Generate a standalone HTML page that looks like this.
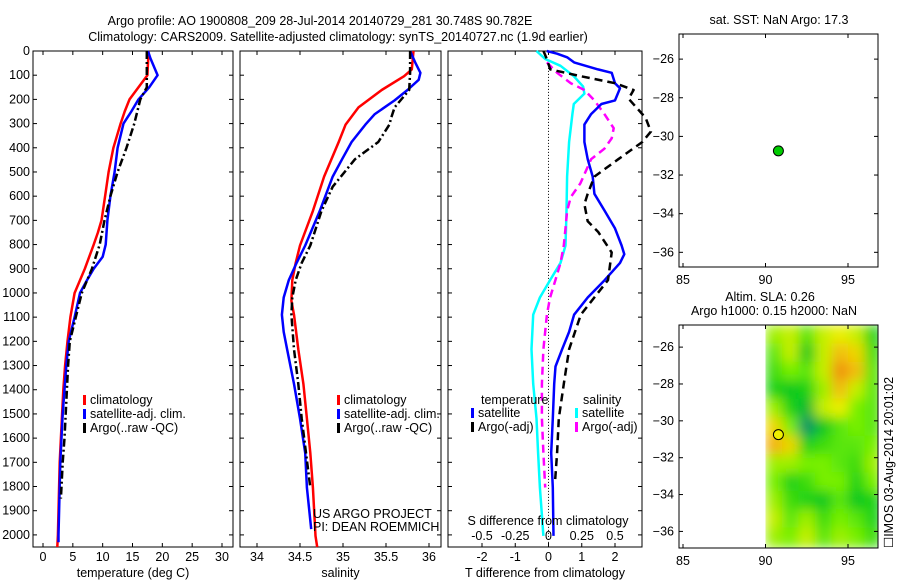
<!DOCTYPE html>
<html><head><meta charset="utf-8"><style>
body{margin:0;background:#fff;}
svg{display:block;font-family:"Liberation Sans",sans-serif;}
text{font-size:12.5px;fill:#000;}
</style></head><body>
<svg id="fig" width="900" height="580" viewBox="0 0 900 580" xmlns="http://www.w3.org/2000/svg">
<defs>
<filter id="blur" x="0" y="0" width="100%" height="100%"><feGaussianBlur stdDeviation="6"/></filter>
<clipPath id="mapclip"><rect x="679" y="325" width="199" height="223"/></clipPath>
</defs>
<text x="320" y="25" text-anchor="middle">Argo profile: AO 1900808_209 28-Jul-2014 20140729_281 30.748S 90.782E</text>
<text x="338" y="41" text-anchor="middle">Climatology: CARS2009. Satellite-adjusted climatology: synTS_20140727.nc (1.9d earlier)</text>
<g id="g"></g>
</svg>
<script>
// ---------- data ----------
const tDepth   = [0,100,150,200,250,300,400,500,600,700,750,800,900,1000,1100,1200,1300,1400,1500,1600,1700,1800,1900,2000,2050];
const tClim    = [17.7,17.5,16,14.5,13.7,13,11.8,11,10.4,9.8,9.2,8.5,7,5.3,4.6,4.1,3.7,3.4,3.2,3.0,2.8,2.7,2.6,2.5,2.4];
const tSatDepth= [0,30,100,150,200,250,300,400,500,600,700,800,850,900,950,1000,1100,1200,1300,1400,1500,1600,1700,1800,1900,2000,2030];
const tSat     = [17.6,18,19.2,17.8,16,14.8,13.5,12.5,12,11.3,10.8,10.5,10,8.5,7.3,6.2,5.3,4.3,3.9,3.6,3.3,3.1,2.9,2.8,2.7,2.6,2.6];
const tArgoDepth=[0,100,150,200,300,400,500,600,700,800,900,1000,1100,1200,1300,1400,1500,1600,1700,1800,1850];
const tArgo    = [17.4,17.4,17.4,16.3,15.3,14,12.5,11.3,10.3,9.5,8.2,6.5,5.5,4.5,4.2,4.0,3.8,3.6,3.3,3.1,3.0];

const sClimDepth=[0,76,104,161,233,304,376,519,661,804,876,947,1033,1090,1233,1376,1519,1661,1804,2004,2050];
const sClim     =[35.82,35.8,35.71,35.45,35.18,35.03,34.95,34.78,34.65,34.5,34.45,34.41,34.4,34.43,34.48,34.54,34.58,34.62,34.65,34.68,34.7];
const sSatDepth =[0,47,90,119,161,204,261,304,376,447,519,661,804,876,947,1019,1090,1161,1233,1376,1519,1661,1804,1976];
const sSat      =[35.78,35.84,35.9,35.88,35.75,35.6,35.37,35.26,35.1,34.99,34.88,34.73,34.56,34.46,34.37,34.31,34.29,34.31,34.35,34.43,34.5,34.56,34.58,34.63];
const sArgoDepth=[0,90,161,233,276,304,376,447,561,661,804,876,947,1019,1090,1233,1376,1519,1661,1804];
const sArgo     =[35.78,35.78,35.77,35.6,35.56,35.54,35.41,35.14,34.88,34.75,34.62,34.52,34.45,34.41,34.4,34.43,34.48,34.52,34.57,34.62];

const dTSatDepth=[0,11,26,47,76,90,111,133,154,204,219,261,304,376,447,519,590,661,733,804,840,876,947,1019,1090,1161,1233,1304,1376,1519,1661,1804,2004];
const dTSat     =[-0.05,0.26,0.56,0.77,1.49,1.9,1.95,2.0,2.15,2.0,1.59,1.28,1.08,1.08,1.18,1.33,1.38,1.69,2.0,2.2,2.28,2.15,1.69,1.18,0.77,0.62,0.41,0.21,0.17,0.13,0.08,0.13,0.15];
const dTArgoDepth=[0,33,76,104,133,161,197,276,333,376,447,519,590,633,704,747,833,947,1090,1233,1376,1519,1661,1776];
const dTArgo    =[-0.15,-0.05,0.05,0.97,2.0,2.56,2.41,2.92,3.08,2.82,2.1,1.38,1.18,1.08,1.18,1.49,1.9,1.79,0.97,0.62,0.46,0.31,0.26,0.2];
const dSSatDepth=[0,33,61,104,147,176,219,261,376,519,661,804,876,947,1019,1090,1233,1376,1519,1661,1804,2004];
const dSSat     =[-0.09,-0.025,0.09,0.19,0.26,0.27,0.19,0.18,0.155,0.14,0.135,0.128,0.09,0.012,-0.065,-0.115,-0.128,-0.115,-0.09,-0.078,-0.065,-0.038];
const dSArgoDepth=[47,90,133,161,204,261,319,361,404,447,547,604,661,733,804,876,947,1019,1090,1233,1376,1519,1661,1804];
const dSArgo    =[-0.012,0.065,0.168,0.27,0.345,0.42,0.49,0.475,0.42,0.32,0.24,0.168,0.14,0.128,0.115,0.09,0.052,0.012,-0.012,-0.038,-0.05,-0.05,-0.038,-0.025];

const depthTicks=[0,100,200,300,400,500,600,700,800,900,1000,1100,1200,1300,1400,1500,1600,1700,1800,1900,2000];
const tTicks=[0,5,10,15,20,25,30];
const sTicks=[34,34.5,35,35.5,36];
const sTickLabels=["34","34.5","35","35.5","36"];
const dTTicks=[-2,-1,0,1,2];
const dSTicks=[-0.5,-0.25,0,0.25,0.5];
const dSTickLabels=["-0.5","-0.25","0","0.25","0.5"];
const lonTicks=[85,90,95];
const latTicks=[-26,-28,-30,-32,-34,-36];
const floatLon=90.782, floatLat=-30.748;
// SLA grid: rows lat -25.3 .. -36.3 (1 deg), cols lon 90.5 .. 96.5
const slaLats=[-25.3,-26.3,-27.3,-28.3,-29.3,-30.3,-31.3,-32.3,-33.3,-34.3,-35.3,-36.3];
const slaLons=[90.5,91.5,92.5,93.5,94.5,95.5,96.5];
const slaGrid=[
[0.55,0.6,0.45,0.6,0.65,0.6,0.35],
[0.45,0.6,0.3,0.6,0.75,0.7,0.4],
[0.4,0.5,0.45,0.6,0.85,0.75,0.45],
[0.35,0.3,0.35,0.55,0.75,0.6,0.45],
[0.55,0.35,0.25,0.6,0.65,0.5,0.45],
[0.7,0.5,0.12,0.3,0.45,0.5,0.45],
[0.78,0.7,0.35,0.4,0.45,0.45,0.5],
[0.55,0.55,0.5,0.5,0.45,0.4,0.55],
[0.5,0.35,0.4,0.5,0.5,0.35,0.5],
[0.55,0.4,0.35,0.3,0.45,0.3,0.35],
[0.6,0.45,0.55,0.4,0.5,0.45,0.35],
[0.55,0.5,0.6,0.45,0.55,0.5,0.4]];

// ---------- helpers ----------
const NS="http://www.w3.org/2000/svg";
const G=document.getElementById('g');
function el(tag,attrs,parent){const e=document.createElementNS(NS,tag);for(const k in attrs)e.setAttribute(k,attrs[k]);(parent||G).appendChild(e);return e;}
function txt(s,x,y,anchor,parent){const t=el('text',{x:x,y:y,'text-anchor':anchor||'start'},parent);t.textContent=s;return t;}
function lin(d0,d1,p0,p1){return v=>p0+(v-d0)*(p1-p0)/(d1-d0);}

const Y0=51, Y1=547, DMAX=2050;
const yD=lin(0,DMAX,Y0,Y1);

function panel(name,x0,x1,xs,ticks,labels,xlabel,showDepth){
  const g=el('g',{});
  
  
  const r=el('rect',{x:x0,y:Y0,width:x1-x0,height:Y1-Y0,fill:'none',stroke:'#000','stroke-width':1},g);
  
  
  ticks.forEach((v,i)=>{const x=xs(v);
    el('line',{x1:x,x2:x,y1:Y1,y2:Y1-4,stroke:'#000'},g);
    el('line',{x1:x,x2:x,y1:Y0,y2:Y0+4,stroke:'#000'},g);
    const t=txt(labels?labels[i]:String(v),x,Y1+14,'middle',g);
    
    });
  depthTicks.forEach(d=>{const y=yD(d);
    el('line',{x1:x0,x2:x0+4,y1:y,y2:y,stroke:'#000'},g);
    el('line',{x1:x1,x2:x1-4,y1:y,y2:y,stroke:'#000'},g);
    if(showDepth){const t=txt(String(d),x0-3,y+4,'end',g);
      
      }});
  const xl=txt(xlabel,(x0+x1)/2,Y1+30,'middle',g);
  
  
  return g;
}
function series(name,g,xs,vals,depths,color,width,dash){
  const pts=vals.map((v,i)=>xs(v).toFixed(1)+','+yD(depths[i]).toFixed(1)).join(' ');
  const p=el('polyline',{points:pts,fill:'none',stroke:color,'stroke-width':width,'stroke-linejoin':'round'},g);
  if(dash)p.setAttribute('stroke-dasharray',dash);
  
  
}
function legend(g,x,y,items){
  items.forEach((it,i)=>{
    const yy=y+i*14;
    const m=el('rect',{x:x,y:yy-9,width:3,height:10,fill:it[1]},g);
    
    
    const t=txt(it[0],x+7,yy,'start',g);
    
    
  });
}

// ---------- panel 1: temperature ----------
const xT=lin(0,30,43,222);
const p1=panel('temperature-panel',33,233,xT,tTicks,null,'temperature (deg C)',true);
series('temp-climatology-line',p1,xT,tClim,tDepth,'#f00',2.5);
series('temp-satellite-line',p1,xT,tSat,tSatDepth,'#00f',2.5);
series('temp-argo-line',p1,xT,tArgo,tArgoDepth,'#000',2.5,'8,3,2,3');
legend(p1,83,404,[['climatology','#f00'],['satellite-adj. clim.','#00f'],['Argo(..raw -QC)','#000']]);

// ---------- panel 2: salinity ----------
const xS=lin(34,36,257,429);
const p2=panel('salinity-panel',240,441,xS,sTicks,sTickLabels,'salinity',false);
series('sal-climatology-line',p2,xS,sClim,sClimDepth,'#f00',2.5);
series('sal-satellite-line',p2,xS,sSat,sSatDepth,'#00f',2.5);
series('sal-argo-line',p2,xS,sArgo,sArgoDepth,'#000',2.5,'8,3,2,3');
legend(p2,337,404,[['climatology','#f00'],['satellite-adj. clim.','#00f'],['Argo(..raw -QC)','#000']]);
const c1=txt('US ARGO PROJECT',313,518,'start',p2);


const c2=txt('PI: DEAN ROEMMICH',313,531,'start',p2);



// ---------- panel 3: differences ----------
const xdT=lin(-2,2,482,615);
const xdS=v=>xdT(v*4);
const p3=panel('difference-panel',448,642,xdT,dTTicks,null,'T difference from climatology',false);
const zl=el('line',{x1:xdT(0),x2:xdT(0),y1:yD(70),y2:Y1,stroke:'#000','stroke-dasharray':'1,2'},p3);


series('dS-satellite-line',p3,xdS,dSSat,dSSatDepth,'#0ff',2.5);
series('dS-argo-line',p3,xdS,dSArgo,dSArgoDepth,'#f0f',2.5,'8,5');
series('dT-satellite-line',p3,xdT,dTSat,dTSatDepth,'#00f',2.5);
series('dT-argo-line',p3,xdT,dTArgo,dTArgoDepth,'#000',2.5,'8,5');
const lt=txt('temperature',481,404,'start',p3);
const ls=txt('salinity',583,404,'start',p3);
legend(p3,471,417,[['satellite','#00f'],['Argo(-adj)','#000']]);
legend(p3,575,417,[['satellite','#0ff'],['Argo(-adj)','#f0f']]);
const st=txt('S difference from climatology',548,525,'middle',p3);

dSTicks.forEach((v,i)=>{const t=txt(dSTickLabels[i],xdS(v),540,'middle',p3);
  
  });

// ---------- maps ----------
const xLon=lin(85,95,683,848);
function mapAxes(name,y0,y1,latTop,latBot){
  const g=el('g',{});
  
  
  const yL=lin(latTop,latBot,y0,y1);
  return {g,yL};
}
function mapFrame(m,y0,y1,name){
  const g=m.g,yL=m.yL;
  const r=el('rect',{x:679,y:y0,width:199,height:y1-y0,fill:'none',stroke:'#000'},g);
  
  lonTicks.forEach(v=>{const x=xLon(v);
    el('line',{x1:x,x2:x,y1:y1,y2:y1-4,stroke:'#000'},g);
    el('line',{x1:x,x2:x,y1:y0,y2:y0+4,stroke:'#000'},g);
    const t=txt(String(v),x,y1+17,'middle',g);});
  latTicks.forEach(v=>{const y=yL(v);
    el('line',{x1:679,x2:683,y1:y,y2:y,stroke:'#000'},g);
    el('line',{x1:878,x2:874,y1:y,y2:y,stroke:'#000'},g);
    const t=txt(String(v).replace('-','\u2212'),674,y+4,'end',g);});
}
// top map (SST)
const m1=mapAxes('sst-map',34,267,-24.7,-36.76);
const t1=txt('sat. SST: NaN Argo: 17.3',779,24,'middle',m1.g);
mapFrame(m1,34,267,'sst-map');
const d1=el('circle',{cx:xLon(floatLon),cy:m1.yL(floatLat),r:5,fill:'#0c0',stroke:'#000','stroke-width':1},m1.g);


// bottom map (SLA)
const m2=mapAxes('sla-map',325,548,-24.8,-36.9);
const hm=el('g',{'clip-path':'url(#mapclip)'},m2.g);
const hmb=el('g',{filter:'url(#blur)'},hm);
function slaColor(v){
  const stops=[[0.1,[0,140,110]],[0.3,[0,200,30]],[0.5,[120,240,0]],[0.65,[235,240,0]],[0.8,[245,165,15]],[0.9,[235,125,15]]];
  if(v<=stops[0][0])return 'rgb('+stops[0][1]+')';
  for(let i=1;i<stops.length;i++){if(v<=stops[i][0]){const a=stops[i-1],b=stops[i],f=(v-a[0])/(b[0]-a[0]);
    return 'rgb('+a[1].map((c,k)=>Math.round(c+(b[1][k]-c)*f)).join(',')+')';}}
  return 'rgb('+stops[stops.length-1][1]+')';
}
el('rect',{x:xLon(90),y:325,width:878-xLon(90),height:223,fill:slaColor(0.45)},hmb);
slaGrid.forEach((row,ri)=>row.forEach((v,ci)=>{
  const x=xLon(slaLons[ci]-0.5),y=m2.yL(slaLats[ri]+0.5);
  const c=el('rect',{x:x,y:y,width:xLon(1)-xLon(0)+0.5,height:m2.yL(-1)-m2.yL(0)+0.5,fill:slaColor(v)},hmb);
  
  
}));
el('rect',{x:679,y:325,width:xLon(90)-679,height:223,fill:'#fff'},hm);
const t2=txt('Altim. SLA: 0.26',770,301,'middle',m2.g);
const t3=txt('Argo h1000: 0.15 h2000: NaN',774,315,'middle',m2.g);
mapFrame(m2,325,548,'sla-map');
const d2=el('circle',{cx:xLon(floatLon),cy:m2.yL(floatLat),r:5,fill:'#ee0',stroke:'#000','stroke-width':1},m2.g);

const ts=txt('\u2610IMOS 03-Aug-2014 20:01:02',0,0,'start',m2.g);
ts.setAttribute('transform','translate(893,548) rotate(-90)');

</script>
</body></html>
